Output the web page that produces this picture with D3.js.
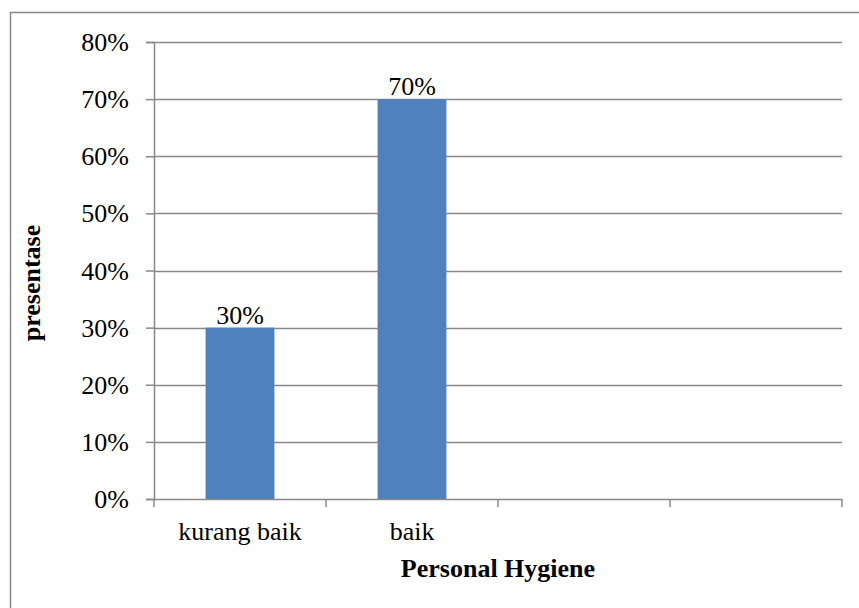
<!DOCTYPE html>
<html><head><meta charset="utf-8">
<script src="https://cdn.jsdelivr.net/npm/d3@7"></script>
<style>body{margin:0;background:#fff}svg{display:block}</style>
</head><body>
<script>
const categories = ["kurang baik", "baik", "", ""];
const values = [0.30, 0.70, null, null];
const dataLabels = ["30%", "70%", null, null];
const yTicks = [0, 0.1, 0.2, 0.3, 0.4, 0.5, 0.6, 0.7, 0.8];
const yTitle = "presentase";
const xTitle = "Personal Hygiene";

const W = 859, H = 608;
const mLeft = 154, mRight = 842, mTop = 42, mBottom = 499;
const font = "Liberation Serif";
const fs = 26;
const axisColor = "#898989";

const svg = d3.select("body").append("svg").attr("width", W).attr("height", H);

svg.append("rect").attr("x", 10.5).attr("y", 12.5).attr("width", W + 20).attr("height", H + 20)
  .attr("fill", "none").attr("stroke", axisColor).attr("stroke-width", 1.5);

const x = d3.scaleBand().domain(d3.range(categories.length)).range([mLeft, mRight]).padding(0);
const y = d3.scaleLinear().domain([0, 0.8]).range([mBottom, mTop]);

// gridlines
svg.append("g").selectAll("line").data(yTicks.filter(d => d > 0)).join("line")
  .attr("x1", mLeft).attr("x2", mRight)
  .attr("y1", d => Math.round(y(d)) + 0.5).attr("y2", d => Math.round(y(d)) + 0.5)
  .attr("stroke", axisColor).attr("stroke-width", 1.5);

// y axis
const yAxis = d3.axisLeft(y).tickValues(yTicks).tickSize(8).tickFormat(d3.format(".0%"));
const gy = svg.append("g").attr("transform", `translate(${mLeft},0)`).call(yAxis)
  .attr("font-family", font).attr("font-size", fs);
gy.select(".domain").attr("stroke", axisColor).attr("stroke-width", 1.5);
gy.selectAll(".tick line").attr("stroke", axisColor).attr("stroke-width", 1.5);
gy.selectAll(".tick text").attr("fill", "#000").attr("x", -25).attr("dy", "0.33em");

// bars
const barW = x.bandwidth() * 0.4;
const idx = d3.range(categories.length).filter(i => values[i] != null);
svg.append("g").selectAll("rect").data(idx).join("rect")
  .attr("x", i => x(i) + (x.bandwidth() - barW) / 2)
  .attr("width", barW)
  .attr("y", i => y(values[i]))
  .attr("height", i => y(0) - y(values[i]))
  .attr("fill", "#4F81BD");

// x axis
const xAxis = d3.axisBottom(x).tickSize(0).tickFormat(i => categories[i]);
const gx = svg.append("g").attr("transform", `translate(0,${mBottom})`).call(xAxis)
  .attr("font-family", font).attr("font-size", fs);
gx.select(".domain").remove();
gx.selectAll(".tick text").attr("fill", "#000").attr("y", 41).attr("dy", 0);
gx.append("line").attr("x1", mLeft).attr("x2", mRight).attr("y1", 0.5).attr("y2", 0.5)
  .attr("stroke", axisColor).attr("stroke-width", 1.5);
const bounds = d3.range(categories.length + 1).map(i => mLeft + i * x.step());
gx.selectAll(".bound").data(bounds).join("line").attr("class", "bound")
  .attr("x1", d => d).attr("x2", d => d).attr("y1", 0).attr("y2", 8)
  .attr("stroke", axisColor).attr("stroke-width", 1.5);

// data labels
svg.append("g").attr("font-family", font).attr("font-size", fs)
  .selectAll("text").data(idx).join("text")
  .attr("x", i => x(i) + x.bandwidth() / 2)
  .attr("y", i => y(values[i]) - 4)
  .attr("text-anchor", "middle").attr("fill", "#000")
  .text(i => dataLabels[i]);

// titles
svg.append("text").attr("transform", `translate(40,283) rotate(-90)`)
  .attr("text-anchor", "middle").attr("font-family", font).attr("font-size", fs)
  .attr("font-weight", "bold").attr("fill", "#000").text(yTitle);
svg.append("text").attr("x", (mLeft + mRight) / 2).attr("y", 577)
  .attr("text-anchor", "middle").attr("font-family", font).attr("font-size", fs)
  .attr("font-weight", "bold").attr("fill", "#000").text(xTitle);
</script>
</body></html>
